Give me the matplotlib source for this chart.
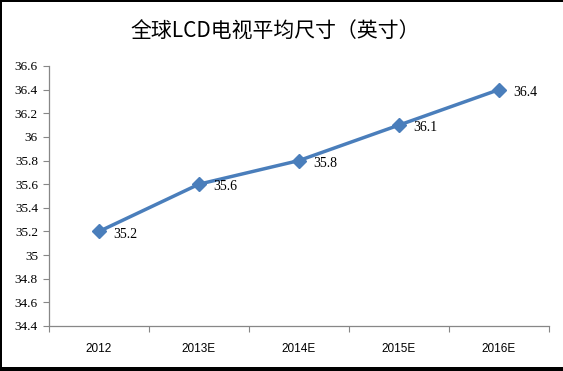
import numpy as np
import matplotlib.pyplot as plt
from matplotlib.patches import Rectangle

# Dados
anos = ['2012', '2013E', '2014E', '2015E', '2016E']
tamanho = [35.2, 35.6, 35.8, 36.1, 36.4]
y_ticks = [34.4, 34.6, 34.8, 35, 35.2, 35.4, 35.6, 35.8, 36, 36.2, 36.4, 36.6]
titulo = '全球LCD电视平均尺寸（英寸）'

plt.rcParams['font.family'] = ['Noto Sans CJK SC', 'DejaVu Sans']

W, H = 563, 371
fig = plt.figure(figsize=(W / 100, H / 100), dpi=100)
ax = fig.add_axes([49 / W, (H - 326) / H, 500 / W, 260 / H])

x = np.arange(len(anos))
ax.plot(x, tamanho, color='#4a7ebb', linewidth=2.5, marker='D', markersize=7)

for xi, v in zip(x, tamanho):
    ax.annotate(f'{v:g}', (xi, v), xytext=(10, -2), textcoords='offset points',
                ha='left', va='center', fontsize=10, family='Liberation Serif')

ax.set_xlim(-0.5, len(anos) - 0.5)
ax.set_ylim(34.4, 36.6)
ax.set_yticks(y_ticks)
ax.set_yticklabels([f'{t:g}' for t in y_ticks], family='Liberation Serif', fontsize=9.5)

# ticks nas fronteiras das categorias, rótulos no centro
ax.set_xticks(np.arange(-0.5, len(anos)), minor=False)
ax.set_xticklabels([])
ax.set_xticks(x, minor=True)
ax.set_xticklabels(anos, minor=True, fontsize=8.5, family='Liberation Sans')
ax.tick_params(axis='x', which='major', length=4, color='#878787', direction='out')
ax.tick_params(axis='x', which='minor', length=0, pad=12)
ax.tick_params(axis='y', length=4, color='#878787', pad=4)

for s in ['top', 'right']:
    ax.spines[s].set_visible(False)
for s in ['left', 'bottom']:
    ax.spines[s].set_color('#878787')
    ax.spines[s].set_linewidth(0.9)

fig.text(275 / W, 1 - 31 / H, titulo, ha='center', va='center', fontsize=15)

# moldura preta (esquerda, topo, base)
fig.patches.append(Rectangle((0, 0), 2 / W, 1, transform=fig.transFigure,
                             facecolor='black', edgecolor='none'))
fig.patches.append(Rectangle((0, 1 - 2 / H), 1, 2 / H, transform=fig.transFigure,
                             facecolor='black', edgecolor='none'))
fig.patches.append(Rectangle((0, 0), 1, 4 / H, transform=fig.transFigure,
                             facecolor='black', edgecolor='none'))

fig.savefig('out.png', dpi=100)
